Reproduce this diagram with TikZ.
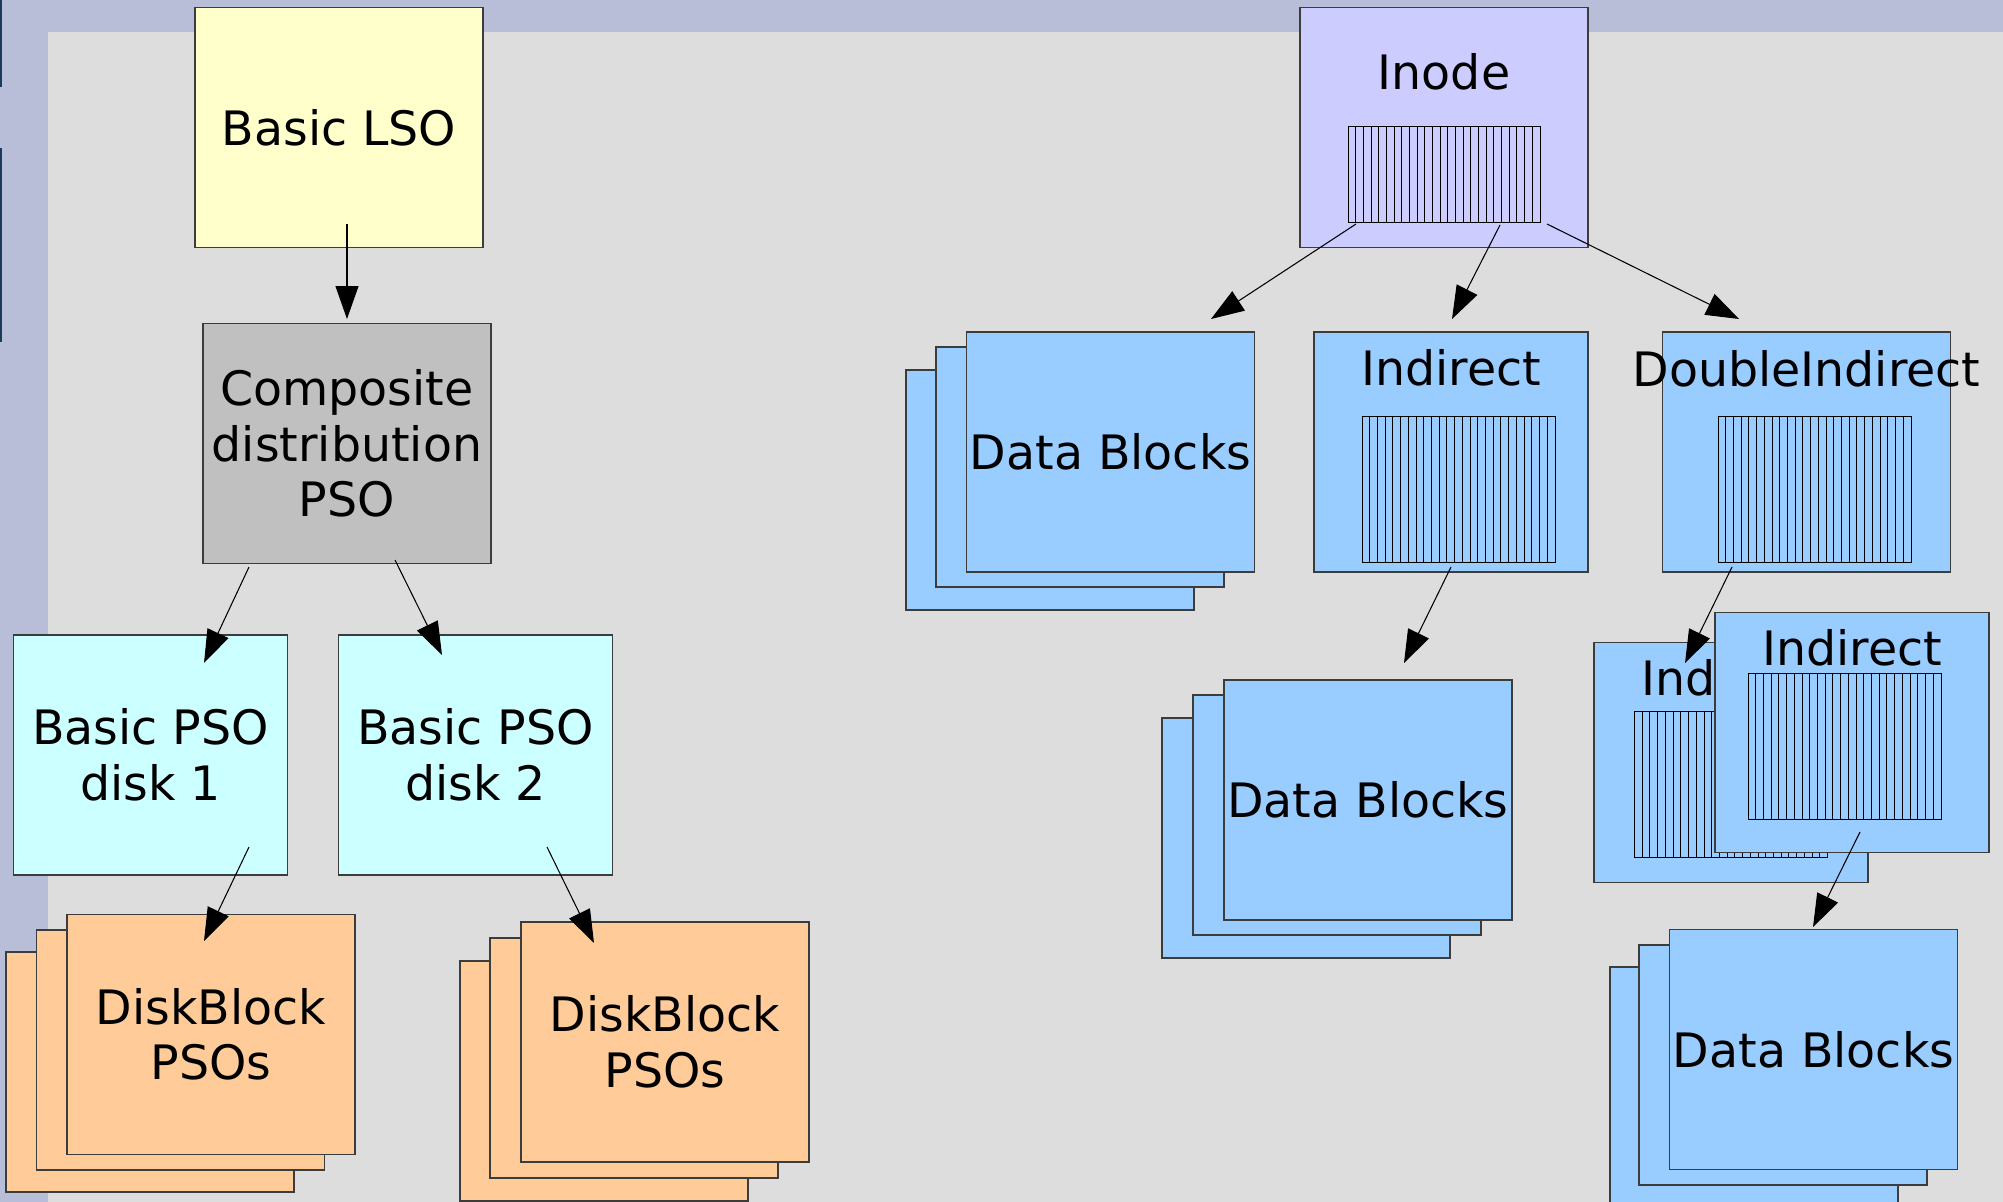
\documentclass[tikz,border=0pt]{standalone}
\usepackage{fontspec}
\setmainfont{DejaVu Sans}
\usepackage{xcolor}
\usepackage{tikz}
\usetikzlibrary{arrows.meta,calc}
\definecolor{ink}{HTML}{000000}
\definecolor{edge}{HTML}{3C3C3C}
\definecolor{frame}{HTML}{B9BED8}
\definecolor{panel}{HTML}{DDDDDD}
\definecolor{rail}{HTML}{1B3A5C}
\definecolor{lsofill}{HTML}{FFFFCC}
\definecolor{compfill}{HTML}{C0C0C0}
\definecolor{psofill}{HTML}{CCFFFF}
\definecolor{diskfill}{HTML}{FFCC99}
\definecolor{inodefill}{HTML}{CCCCFF}
\definecolor{datafill}{HTML}{99CCFF}
\newcommand\boxfont{\fontsize{27}{31.6}\selectfont}
\tikzset{
  block/.style={
    draw=edge, line width=0.75pt, minimum width=5.76cm, minimum height=4.8cm,
    inner sep=0pt, align=center, font=\boxfont},
  narrow/.style={minimum width=5.48cm},
  disk/.style={block, fill=diskfill},
  data/.style={block, fill=datafill},
  title/.style={inner sep=0pt, font=\boxfont},
  slots/.style={
    draw=ink, line width=0.55pt, inner sep=0pt, minimum width=3.86cm, minimum height=2.92cm,
    path picture={\foreach \k in {1,...,24}
      \draw[ink, line width=0.55pt]
        ($(path picture bounding box.north west)!\k/25!(path picture bounding box.north east)$) --
        ($(path picture bounding box.south west)!\k/25!(path picture bounding box.south east)$);}},
  link/.style={-{Triangle[length=0.66cm, width=0.46cm]}, line width=0.6pt, color=ink},
}

\begin{document}
\begin{tikzpicture}[x=0.02cm, y=-0.02cm]
  \useasboundingbox (0,0) rectangle (2003,1202);
  \fill[frame] (0,0) rectangle (2003,1202);
  \fill[panel] (48,32) rectangle (2003,1202);
  \fill[rail] (0,0) rectangle (2,87);
  \fill[rail] (0,148) rectangle (2,342);

  % left tree
  \node[block, fill=lsofill] (lso) at (339,127.5) {Basic LSO};
  \node[block, fill=compfill] (comp) at (347,443.5) {Composite\\distribution\\PSO};
  \node[block, narrow, fill=psofill] (pso1) at (150.5,755) {Basic PSO\\disk 1};
  \node[block, narrow, fill=psofill] (pso2) at (475.5,755) {Basic PSO\\disk 2};
  \node[disk] (dsk1-3) at (150,1072) {};
  \node[disk] (dsk1-2) at (180.5,1050) {};
  \node[disk] (dsk1) at (211,1034.5) {DiskBlock\\PSOs};
  \node[disk] (dsk2-3) at (604,1081) {};
  \node[disk] (dsk2-2) at (634,1058) {};
  \node[disk] (dsk2) at (665,1042) {DiskBlock\\PSOs};

  % right tree
  \node[block, fill=inodefill] (inode) at (1444,127.5) {};
  \node[title] (inode-t) at (1444,71.5) {Inode};
  \node[slots, minimum width=3.84cm, minimum height=1.92cm] (inode-slots) at (1444,174) {};

  \node[data] (blk1-3) at (1050,490) {};
  \node[data] (blk1-2) at (1080,467) {};
  \node[data] (blk1) at (1110.5,452) {Data Blocks};

  \node[data, narrow] (ind) at (1451,452) {};
  \node[title] (ind-t) at (1451,368) {Indirect};
  \node[slots] (ind-slots) at (1458.5,489) {};

  \node[data] (dbl) at (1806.5,452) {};
  \node[title] (dbl-t) at (1806.5,369) {DoubleIndirect};
  \node[slots] (dbl-slots) at (1814.5,489) {};

  \node[data] (blk2-3) at (1306,838) {};
  \node[data] (blk2-2) at (1337,815) {};
  \node[data] (blk2) at (1368,800) {Data Blocks};

  \node[data, narrow] (sub1) at (1731,762.5) {};
  \node[title] (sub1-t) at (1731,678) {Indirect};
  \node[slots] (sub1-slots) at (1731,784) {};
  \node[data, narrow] (sub2) at (1852,732.5) {};
  \node[title] (sub2-t) at (1852,648) {Indirect};
  \node[slots] (sub2-slots) at (1844.5,746) {};

  \node[data] (blk3-3) at (1754,1087) {};
  \node[data] (blk3-2) at (1783,1065) {};
  \node[data] (blk3) at (1813.5,1049.5) {Data Blocks};

  % arrow ends
  \coordinate (lso-out) at (347,224);    \coordinate (comp-in) at (347,319);
  \coordinate (comp-out1) at (249,567);  \coordinate (pso1-in) at (204,663);
  \coordinate (comp-out2) at (395,560);  \coordinate (pso2-in) at (442,655);
  \coordinate (pso1-out) at (249,847);   \coordinate (dsk1-in) at (204,941);
  \coordinate (pso2-out) at (547,847);   \coordinate (dsk2-in) at (594,943);
  \coordinate (inode-out1) at (1356,224); \coordinate (blk1-in) at (1211,319);
  \coordinate (inode-out2) at (1500,225); \coordinate (ind-in) at (1452,319);
  \coordinate (inode-out3) at (1547,224); \coordinate (dbl-in) at (1739,319);
  \coordinate (ind-out) at (1451,567);   \coordinate (blk2-in) at (1404,663);
  \coordinate (dbl-out) at (1732,567);   \coordinate (sub1-in) at (1685,663);
  \coordinate (sub2-out) at (1860,832);  \coordinate (blk3-in) at (1813,927);

  \draw[link] (lso-out) -- (comp-in);
  \draw[link] (comp-out1) -- (pso1-in);
  \draw[link] (comp-out2) -- (pso2-in);
  \draw[link] (pso1-out) -- (dsk1-in);
  \draw[link] (pso2-out) -- (dsk2-in);
  \draw[link] (inode-out1) -- (blk1-in);
  \draw[link] (inode-out2) -- (ind-in);
  \draw[link] (inode-out3) -- (dbl-in);
  \draw[link] (ind-out) -- (blk2-in);
  \draw[link] (dbl-out) -- (sub1-in);
  \draw[link] (sub2-out) -- (blk3-in);
\end{tikzpicture}
\end{document}
